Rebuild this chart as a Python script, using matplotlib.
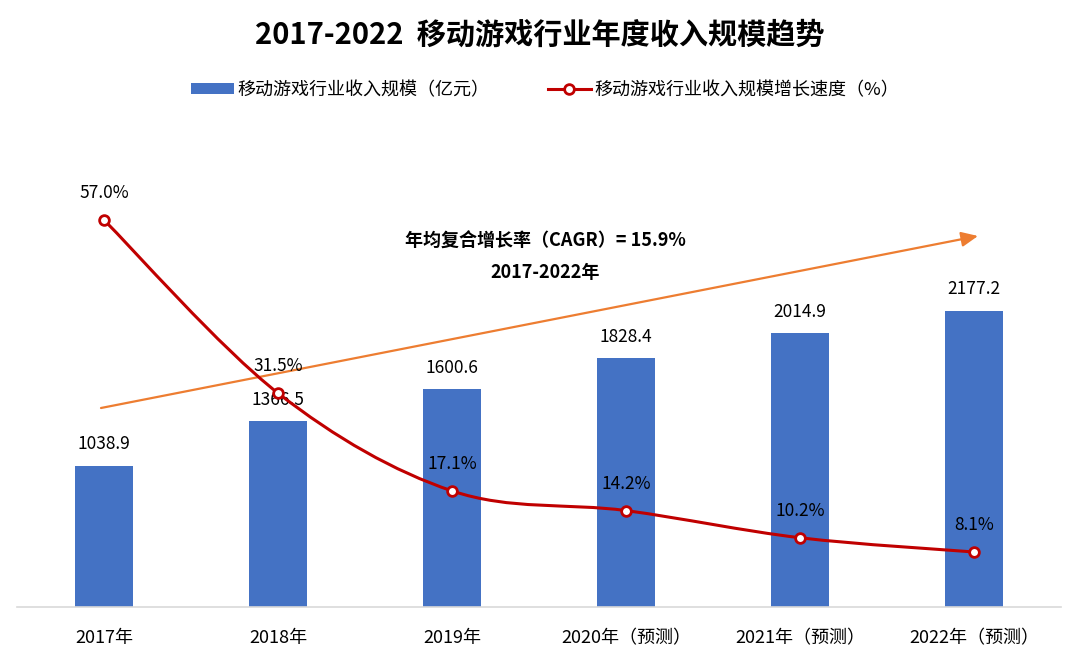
import numpy as np
import matplotlib
matplotlib.use("Agg")
import matplotlib.pyplot as plt
from matplotlib.path import Path
from matplotlib.patches import PathPatch
from matplotlib.lines import Line2D
from matplotlib.patches import Patch

plt.rcParams['font.family'] = ['Noto Sans CJK SC', 'DejaVu Sans']

categories = ["2017年", "2018年", "2019年", "2020年（预测）", "2021年（预测）", "2022年（预测）"]
revenue = [1038.9, 1366.5, 1600.6, 1828.4, 2014.9, 2177.2]
growth = [57.0, 31.5, 17.1, 14.2, 10.2, 8.1]
title = "2017-2022  移动游戏行业年度收入规模趋势"
bar_label = "移动游戏行业收入规模（亿元）"
line_label = "移动游戏行业收入规模增长速度（%）"
cagr_text = "年均复合增长率（CAGR）= 15.9%"
cagr_period = "2017-2022年"

BAR_C = "#4472C4"
LINE_C = "#C00000"
ARROW_C = "#ED7D31"

L, R = 17, 1061
fig = plt.figure(figsize=(10.8, 6.66), dpi=100)
ax = fig.add_axes([L/1080, 1-607/666, (R-L)/1080, (607-120)/666])
ax2 = ax.twinx()

x = np.arange(len(categories))
ax.bar(x, revenue, width=0.335, color=BAR_C, zorder=2)
ax.set_xlim(-0.5, len(categories)-0.5)
ax.set_ylim(0, 487/0.13596)
ax2.set_ylim(0, 487/6.79)

for xi, v in zip(x, revenue):
    ax.annotate(f"{v:.1f}", (xi, v), xytext=(0, 9), textcoords="offset points",
                ha="center", va="bottom", fontsize=12.5, color="#000000", zorder=3)

# smooth line (Catmull-Rom -> cubic Bezier, as in Excel smoothed lines)
pts = np.column_stack([x, growth]).astype(float)
verts = [tuple(pts[0])]
codes = [Path.MOVETO]
n = len(pts)
for i in range(n-1):
    p0 = pts[max(i-1, 0)]
    p1 = pts[i]
    p2 = pts[i+1]
    p3 = pts[min(i+2, n-1)]
    c1 = p1 + (p2 - p0) / 6.0
    c2 = p2 - (p3 - p1) / 6.0
    verts += [tuple(c1), tuple(c2), tuple(p2)]
    codes += [Path.CURVE4]*3
path = Path(verts, codes)
ax2.add_patch(PathPatch(path, facecolor="none", edgecolor=LINE_C, lw=2.2, zorder=4))
ax2.plot(x, growth, linestyle="none", marker="o", markersize=7, markerfacecolor="white",
         markeredgecolor=LINE_C, markeredgewidth=2, zorder=5)
for xi, v in zip(x, growth):
    ax2.annotate(f"{v:.1f}%", (xi, v), xytext=(0, 13), textcoords="offset points",
                 ha="center", va="bottom", fontsize=12.5, color="#000000", zorder=6)

# CAGR arrow
ax.annotate("", xy=((978-L)/(R-L), (607-236)/487), xytext=((101-L)/(R-L), (607-408)/487),
            xycoords="axes fraction", textcoords="axes fraction",
            arrowprops=dict(arrowstyle="-|>,head_length=1.0,head_width=0.45", color=ARROW_C, lw=1.6,
                            shrinkA=0, shrinkB=0), zorder=3)
fig.text(545/1080, 1-241/666, cagr_text, ha="center", va="center", fontsize=13, fontweight="bold")
fig.text(545/1080, 1-272/666, cagr_period, ha="center", va="center", fontsize=13, fontweight="bold")

for a in (ax, ax2):
    for s in ("top", "right", "left"):
        a.spines[s].set_visible(False)
    a.set_yticks([])
ax.spines["bottom"].set_color("#D9D9D9")
ax.spines["bottom"].set_linewidth(1.2)
ax2.spines["bottom"].set_visible(False)
ax.set_xticks(x)
ax.set_xticklabels(categories, fontsize=13)
ax.tick_params(axis="x", length=0, pad=16)

fig.text(0.5, 1-35/666, title, ha="center", va="center", fontsize=21, fontweight="bold")

handles = [Patch(facecolor=BAR_C, edgecolor="none"),
           Line2D([0], [0], color=LINE_C, lw=2.2, marker="o", markersize=7,
                  markerfacecolor="white", markeredgecolor=LINE_C, markeredgewidth=2)]
fig.legend(handles, [bar_label, line_label], loc="center", bbox_to_anchor=(545/1080, 1-90/666),
           ncol=2, frameon=False, fontsize=13, handlelength=2.4, handleheight=0.6,
           handletextpad=0.2, columnspacing=3.2, numpoints=1)

fig.savefig("out.png", dpi=100)
